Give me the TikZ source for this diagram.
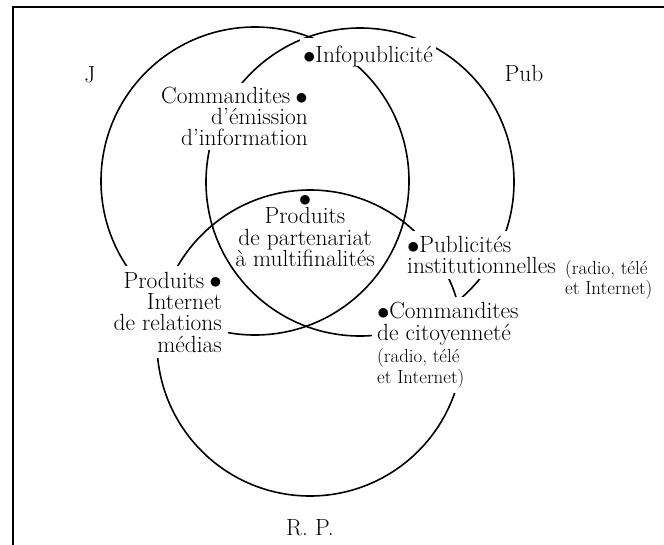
\documentclass[tikz,border=0pt]{standalone}
\usepackage{fontspec}
\newcommand{\bigtxt}{\fontsize{23.4}{21.2}\selectfont}
\newcommand{\smalltxt}{\fontsize{18.9}{20.5}\selectfont}
\newcommand{\lead}{\raisebox{-1pt}{$\bullet$}\kern-0.3pt}
\newcommand{\trail}{\kern5pt\raisebox{-0.5pt}{$\bullet$}}

\begin{document}
\begin{tikzpicture}[
  x=1pt, y=-1pt,
  ring/.style={line width=1.6pt},
  frame/.style={line width=2.3pt},
  lbl/.style={fill=white, inner sep=5pt, font=\bigtxt},
  setname/.style={font=\bigtxt},
  note/.style={inner sep=2pt, font=\smalltxt, align=left},
]
  \useasboundingbox (0,0) rectangle (664,544);
  \clip (0,0) rectangle (664,544);
  \draw[frame] (12.8,6.7) rectangle (700,600);

  % the three sets
  \coordinate (cJ) at (255,181);
  \coordinate (cPub) at (360,182);
  \coordinate (cRP) at (310,343);
  \draw[ring] (cJ) circle[radius=154pt];
  \draw[ring] (cPub) circle[radius=154pt];
  \draw[ring] (cRP) circle[radius=153pt];

  \node[setname] (J) at (90,75) {J};
  \node[setname] (Pub) at (524,73) {Pub};
  \node[setname] (RP) at (310,528) {R. P.};

  % items, white boxes cut the circles
  \node[lbl, anchor=base west, inner xsep=3pt, inner ysep=2pt, text height=22pt, text depth=2pt] (infopub) at (300,62) {\lead Infopublicité\hspace{6pt}};
  \node[lbl, anchor=north east, inner sep=4pt, align=right] (emission) at (312,83) {Commandites\trail\\d’émission\\d’information};
  \node[font=\bigtxt, anchor=south, inner sep=2pt, align=center] (partenariat) at (305,269) {\raisebox{-1pt}{$\bullet$}\\[-3pt]Produits\\[0.6pt]de partenariat\\à multifinalités};
  \node[lbl, anchor=north west, align=left] (institut) at (402,231) {\lead Publicités\\institutionnelles};
  \node[note, anchor=north west] (radioA) at (563,258) {(radio, télé\\et Internet)};
  \node[lbl, anchor=north west, align=left] (citoyen) at (372,297) {\lead Commandites\\[0.5pt]de citoyenneté\\[1pt]{\smalltxt (radio, télé}\\{\smalltxt et Internet)}};
  \node[lbl, anchor=north east, inner sep=6pt, align=right] (relations) at (228,266) {Produits\trail\\Internet\\de relations\\médias};
\end{tikzpicture}
\end{document}
